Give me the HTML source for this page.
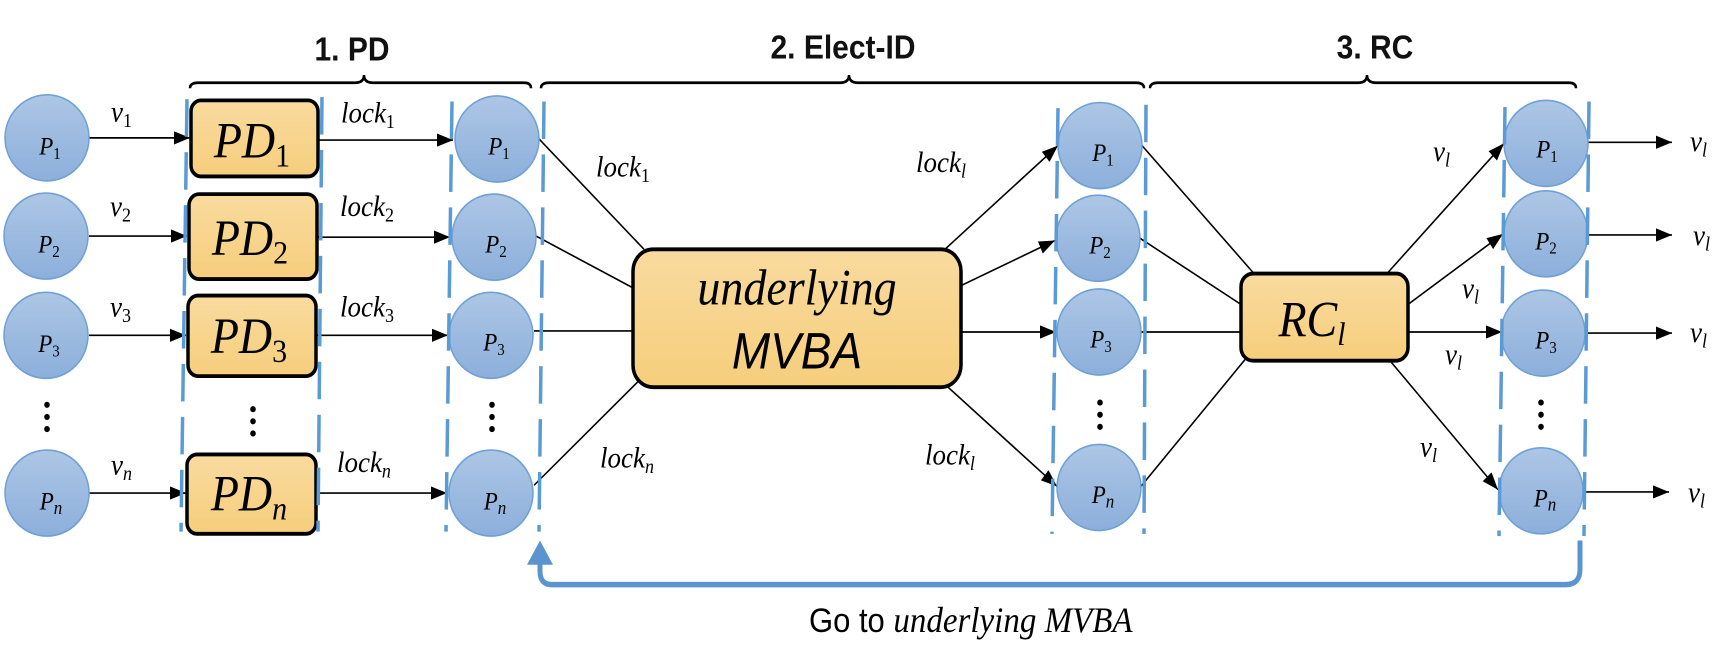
<!DOCTYPE html>
<html><head><meta charset="utf-8"><style>
html,body{margin:0;padding:0;background:#fff;}
svg{display:block;}
.m{font-family:"Liberation Serif",serif;font-style:italic;}
.h{font-family:"Liberation Sans",sans-serif;font-weight:bold;}
</style></head><body>
<svg width="1724" height="662" viewBox="0 0 1724 662" xmlns="http://www.w3.org/2000/svg">
<defs>
<linearGradient id="cg" x1="0" y1="0" x2="0" y2="1"><stop offset="0" stop-color="#adc6e5"/><stop offset="1" stop-color="#8cafdb"/></linearGradient>
<linearGradient id="bg" x1="0" y1="0" x2="0" y2="1"><stop offset="0" stop-color="#f9db9f"/><stop offset="1" stop-color="#f6ce7c"/></linearGradient>
<marker id="b" viewBox="0 0 10 10" markerWidth="16" markerHeight="12" refX="10" refY="5" orient="auto" markerUnits="userSpaceOnUse" preserveAspectRatio="none"><path d="M0,0 L10,5 L0,10z"/></marker>
</defs>
<g transform="scale(1,1.103)">
<g stroke="#000" stroke-width="1.5" fill="none">
<path d="M190,80 Q190,75 198,75 L355,75 Q364,75 364,68 Q364,75 373,75 L524,75 Q531,75 531,80" stroke-width="2.5"/>
<path d="M541,80 Q541,75 549,75 L840,75 Q849,75 849,68 Q849,75 858,75 L1136,75 Q1144,75 1144,80" stroke-width="2.5"/>
<path d="M1150,80 Q1150,75 1158,75 L1358,75 Q1367,75 1367,68 Q1367,75 1376,75 L1569,75 Q1576,75 1576,80" stroke-width="2.5"/>
<line x1="89" y1="125" x2="190" y2="125" marker-end="url(#b)"/>
<line x1="89" y1="214" x2="187" y2="214" marker-end="url(#b)"/>
<line x1="89" y1="304" x2="186" y2="304" marker-end="url(#b)"/>
<line x1="89" y1="447" x2="186" y2="447" marker-end="url(#b)"/>
<line x1="318" y1="127" x2="453" y2="127" marker-end="url(#b)"/>
<line x1="316" y1="215" x2="450" y2="215" marker-end="url(#b)"/>
<line x1="316" y1="304" x2="448" y2="304" marker-end="url(#b)"/>
<line x1="316" y1="447" x2="447" y2="447" marker-end="url(#b)"/>
<line x1="538" y1="125" x2="644" y2="226"/>
<line x1="536" y1="214" x2="633" y2="261"/>
<line x1="534" y1="300" x2="633" y2="300"/>
<line x1="534" y1="440" x2="638" y2="346"/>
<line x1="945" y1="226" x2="1058" y2="132" marker-end="url(#b)"/>
<line x1="961" y1="259" x2="1055" y2="218" marker-end="url(#b)"/>
<line x1="961" y1="301" x2="1056" y2="301" marker-end="url(#b)"/>
<line x1="948" y1="351" x2="1057" y2="441" marker-end="url(#b)"/>
<line x1="1142" y1="132" x2="1254" y2="248"/>
<line x1="1140" y1="216" x2="1241" y2="276"/>
<line x1="1140" y1="301" x2="1241" y2="301"/>
<line x1="1140" y1="442" x2="1245" y2="326"/>
<line x1="1387" y1="248" x2="1504" y2="130" marker-end="url(#b)"/>
<line x1="1408" y1="276" x2="1503" y2="212" marker-end="url(#b)"/>
<line x1="1408" y1="301" x2="1502" y2="301" marker-end="url(#b)"/>
<line x1="1390" y1="327" x2="1498" y2="444" marker-end="url(#b)"/>
<line x1="1588" y1="129" x2="1672" y2="129" marker-end="url(#b)"/>
<line x1="1588" y1="213" x2="1672" y2="213" marker-end="url(#b)"/>
<line x1="1588" y1="302" x2="1672" y2="302" marker-end="url(#b)"/>
<line x1="1584" y1="446" x2="1669" y2="446" marker-end="url(#b)"/>
</g>
<g fill="url(#cg)" stroke="#6fa0d6" stroke-width="1.5">
<ellipse cx="47" cy="125" rx="42" ry="39"/><ellipse cx="46" cy="214" rx="42" ry="39"/><ellipse cx="46" cy="304" rx="42" ry="39"/><ellipse cx="47" cy="447" rx="42" ry="39"/>
<ellipse cx="497" cy="126" rx="42" ry="39"/><ellipse cx="494" cy="215" rx="42" ry="39"/><ellipse cx="491" cy="304" rx="42" ry="39"/><ellipse cx="491" cy="447" rx="42" ry="39"/>
<ellipse cx="1100" cy="132" rx="42" ry="39"/><ellipse cx="1098" cy="216" rx="42" ry="39"/><ellipse cx="1099" cy="301" rx="42" ry="39"/><ellipse cx="1099" cy="442" rx="42" ry="39"/>
<ellipse cx="1546" cy="130" rx="42" ry="39"/><ellipse cx="1546" cy="212" rx="42" ry="39"/><ellipse cx="1543" cy="302" rx="42" ry="39"/><ellipse cx="1541" cy="445" rx="42" ry="39"/>
</g>
<g fill="url(#bg)" stroke="#000" stroke-width="3.5">
<rect x="191" y="91" width="127" height="69" rx="10"/>
<rect x="189" y="176" width="128" height="77" rx="10"/>
<rect x="188" y="268" width="128" height="73" rx="10"/>
<rect x="187" y="412" width="129" height="72" rx="10"/>
<rect x="633" y="226" width="328" height="125" rx="20"/>
<rect x="1241" y="248" width="167" height="79" rx="12"/>
</g>
<g stroke="#5b9bd5" stroke-width="3.5" stroke-dasharray="34,14" fill="none">
<line x1="187" y1="90" x2="181" y2="482"/><line x1="322" y1="88" x2="318" y2="482"/>
<line x1="452" y1="92" x2="446" y2="482"/><line x1="544" y1="92" x2="539" y2="482"/>
<line x1="1058" y1="98" x2="1052" y2="484"/><line x1="1146" y1="95" x2="1144" y2="484"/>
<line x1="1505" y1="97" x2="1499" y2="486"/><line x1="1589" y1="92" x2="1584" y2="486"/>
</g>
<path d="M1580,490 L1580,516 Q1580,530 1566,530 L552,530 Q540,530 540,518 L540,509" stroke="#5b94cf" stroke-width="5" fill="none"/>
<path d="M527,512 L540,490 L553,512z" fill="#5b94cf"/>
<g fill="#000">
<circle cx="47" cy="367" r="2.8"/><circle cx="47" cy="378" r="2.8"/><circle cx="47" cy="389" r="2.8"/>
<circle cx="253" cy="371" r="2.8"/><circle cx="253" cy="382" r="2.8"/><circle cx="253" cy="393" r="2.8"/>
<circle cx="492" cy="367" r="2.8"/><circle cx="492" cy="378" r="2.8"/><circle cx="492" cy="389" r="2.8"/>
<circle cx="1100" cy="365" r="2.8"/><circle cx="1100" cy="376" r="2.8"/><circle cx="1100" cy="387" r="2.8"/>
<circle cx="1541" cy="365" r="2.8"/><circle cx="1541" cy="376" r="2.8"/><circle cx="1541" cy="387" r="2.8"/>
</g>
<g class="h" font-size="30" text-anchor="middle" fill="#111">
<text x="352" y="55">1. PD</text>
<text x="843" y="53">2. Elect-ID</text>
<text x="1375" y="53">3. RC</text>
</g>
<g class="m" font-size="23" text-anchor="middle" fill="#000">
<text x="50" y="140">P<tspan font-size="15" dy="4" font-style="normal">1</tspan></text>
<text x="49" y="229">P<tspan font-size="15" dy="4" font-style="normal">2</tspan></text>
<text x="49" y="319">P<tspan font-size="15" dy="4" font-style="normal">3</tspan></text>
<text x="51" y="462">P<tspan font-size="17" dy="4">n</tspan></text>
<text x="499" y="140">P<tspan font-size="15" dy="4" font-style="normal">1</tspan></text>
<text x="496" y="229">P<tspan font-size="15" dy="4" font-style="normal">2</tspan></text>
<text x="494" y="318">P<tspan font-size="15" dy="4" font-style="normal">3</tspan></text>
<text x="495" y="462">P<tspan font-size="17" dy="4">n</tspan></text>
<text x="1103" y="146">P<tspan font-size="15" dy="4" font-style="normal">1</tspan></text>
<text x="1100" y="230">P<tspan font-size="15" dy="4" font-style="normal">2</tspan></text>
<text x="1101" y="315">P<tspan font-size="15" dy="4" font-style="normal">3</tspan></text>
<text x="1103" y="456">P<tspan font-size="17" dy="4">n</tspan></text>
<text x="1547" y="143">P<tspan font-size="15" dy="4" font-style="normal">1</tspan></text>
<text x="1546" y="226">P<tspan font-size="15" dy="4" font-style="normal">2</tspan></text>
<text x="1546" y="316">P<tspan font-size="15" dy="4" font-style="normal">3</tspan></text>
<text x="1545" y="459">P<tspan font-size="17" dy="4">n</tspan></text>
</g>
<g class="m" font-size="46" text-anchor="middle" fill="#000">
<text x="252" y="143">PD<tspan font-size="30" dy="8" font-style="normal">1</tspan></text>
<text x="250" y="231">PD<tspan font-size="30" dy="8" font-style="normal">2</tspan></text>
<text x="249" y="320">PD<tspan font-size="30" dy="8" font-style="normal">3</tspan></text>
<text x="249" y="463">PD<tspan font-size="30" dy="8">n</tspan></text>
<text x="1312" y="305">RC<tspan font-size="30" dy="8">l</tspan></text>
<text x="797" y="276" font-size="46">underlying</text>
<text x="797" y="334" font-size="46" font-family="Liberation Sans,sans-serif">MVBA</text>
</g>
<g class="m" font-size="27" fill="#000">
<text x="111" y="110">v<tspan font-size="18" dy="5" font-style="normal">1</tspan></text>
<text x="110" y="196">v<tspan font-size="18" dy="5" font-style="normal">2</tspan></text>
<text x="110" y="287">v<tspan font-size="18" dy="5" font-style="normal">3</tspan></text>
<text x="111" y="430">v<tspan font-size="18" dy="5">n</tspan></text>
<text x="341" y="111">lock<tspan font-size="18" dy="5" font-style="normal">1</tspan></text>
<text x="340" y="196">lock<tspan font-size="18" dy="5" font-style="normal">2</tspan></text>
<text x="340" y="287">lock<tspan font-size="18" dy="5" font-style="normal">3</tspan></text>
<text x="337" y="428">lock<tspan font-size="18" dy="5">n</tspan></text>
<text x="596" y="160">lock<tspan font-size="18" dy="5" font-style="normal">1</tspan></text>
<text x="600" y="424">lock<tspan font-size="18" dy="5">n</tspan></text>
<text x="916" y="156">lock<tspan font-size="18" dy="5">l</tspan></text>
<text x="925" y="421">lock<tspan font-size="18" dy="5">l</tspan></text>
<text x="1433" y="146">v<tspan font-size="18" dy="5">l</tspan></text>
<text x="1462" y="270">v<tspan font-size="18" dy="5">l</tspan></text>
<text x="1445" y="330">v<tspan font-size="18" dy="5">l</tspan></text>
<text x="1420" y="414">v<tspan font-size="18" dy="5">l</tspan></text>
<text x="1690" y="137">v<tspan font-size="18" dy="5">l</tspan></text>
<text x="1693" y="222">v<tspan font-size="18" dy="5">l</tspan></text>
<text x="1690" y="310">v<tspan font-size="18" dy="5">l</tspan></text>
<text x="1688" y="455">v<tspan font-size="18" dy="5">l</tspan></text>
</g>
<text x="809" y="573" font-family="Liberation Sans,sans-serif" font-size="31" fill="#000">Go to <tspan class="m" font-size="33">underlying MVBA</tspan></text>
</g>
</svg>
</body></html>
